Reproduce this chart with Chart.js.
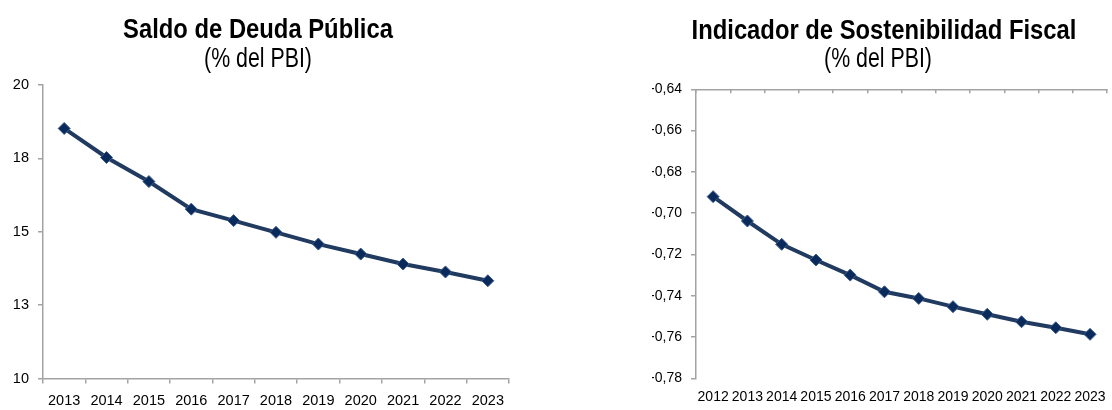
<!DOCTYPE html>
<html>
<head>
<meta charset="utf-8">
<script src="https://cdn.jsdelivr.net/npm/chart.js@4.4.0/dist/chart.umd.min.js"></script>
<style>
    html, body { margin:0; padding:0; background:#fff; overflow:hidden; width:1112px; height:410px; }
    #chart1 { position:absolute; left:0; top:0; }
    #chart2 { position:absolute; left:640px; top:0; }
    .ttl, .sub { position:absolute; white-space:nowrap; color:#000; font-family:'Liberation Sans', Arial, sans-serif; line-height:1; }
    .ttl { font-size:28px; font-weight:bold; transform:translateX(-50%) scaleX(0.85); }
    .sub { font-size:27px; transform:translateX(-50%) scaleX(0.79); }
</style>
</head>
<body>
<canvas id="chart1" width="516" height="410"></canvas>
<canvas id="chart2" width="476" height="410"></canvas>
<div class="ttl" style="left:258px; top:14.6px;">Saldo de Deuda Pública</div>
<div class="sub" style="left:257.5px; top:44.8px;">(% del PBI)</div>
<div class="ttl" style="left:884px; top:16px;">Indicador de Sostenibilidad Fiscal</div>
<div class="sub" style="left:878px; top:45px;">(% del PBI)</div>
<script>
    // Saldo de Deuda Publica (% del PBI)
    let years1 = ['2013', '2014', '2015', '2016', '2017', '2018', '2019', '2020', '2021', '2022', '2023'];
    let deuda = [18.52, 17.53, 16.71, 15.77, 15.38, 14.98, 14.58, 14.24, 13.90, 13.63, 13.33];

    // Indicador de Sostenibilidad Fiscal (% del PBI)
    let years2 = ['2012', '2013', '2014', '2015', '2016', '2017', '2018', '2019', '2020', '2021', '2022', '2023'];
    let indicador = [-0.692, -0.7038, -0.7151, -0.7227, -0.730, -0.7381, -0.7413, -0.7453, -0.749, -0.7526, -0.7555, -0.7587];

    let sans = "'Liberation Sans', Arial, sans-serif";
    let axisGray = '#a3a3a3';
    let lineColor = '#213b60';
    let markColor = '#0a2a5c';

    function lineSet(values) {
        return {
            data: values,
            borderColor: lineColor,
            borderWidth: 4,
            tension: 0,
            pointStyle: 'rectRot',
            pointRadius: 6,
            pointBackgroundColor: markColor,
            pointBorderColor: '#3a5a8c',
            pointBorderWidth: 1
        };
    }

    let noPlugins = { legend: { display: false }, tooltip: { enabled: false } };

    let ctx1 = document.getElementById('chart1').getContext('2d');
    let deudaChart = new Chart(ctx1, {
        type: 'line',
        data: { labels: years1, datasets: [lineSet(deuda)] },
        options: {
            responsive: false,
            animation: false,
            layout: { padding: { left: 4, right: 4, top: 85, bottom: 0 } },
            plugins: noPlugins,
            scales: {
                x: {
                    offset: true,
                    grid: { offset: true, drawOnChartArea: false, color: axisGray, lineWidth: 1.5, tickLength: 5 },
                    border: { color: axisGray, width: 1.5 },
                    ticks: { color: '#000', font: { family: sans, size: 14.5 }, padding: 8.8, maxRotation: 0, autoSkip: false },
                    afterFit: function(s) { s.height = 31.5; }
                },
                y: {
                    min: 10,
                    max: 20,
                    grid: { drawOnChartArea: false, color: axisGray, lineWidth: 1.5, tickLength: 5 },
                    border: { color: axisGray, width: 1.5 },
                    ticks: {
                        stepSize: 2.5,
                        color: '#000',
                        font: { family: sans, size: 14.5 },
                        padding: 9,
                        callback: function(v) { return Math.round(v); }
                    },
                    afterFit: function(s) { s.width = 39; }
                }
            }
        }
    });

    let ctx2 = document.getElementById('chart2').getContext('2d');
    let indicadorChart = new Chart(ctx2, {
        type: 'line',
        data: { labels: years2, datasets: [lineSet(indicador)] },
        options: {
            responsive: false,
            animation: false,
            layout: { padding: { left: 12, right: 4, top: 89.3, bottom: 0 } },
            plugins: noPlugins,
            scales: {
                x: {
                    offset: true,
                    grid: { display: false, drawTicks: false },
                    border: { display: false },
                    ticks: { color: '#000', font: { family: sans, size: 14 }, padding: 10, maxRotation: 0, autoSkip: false },
                    afterFit: function(s) { s.height = 31.7; }
                },
                // axis line across the top, ticks pointing into the plot
                x2: {
                    type: 'category',
                    position: 'top',
                    offset: true,
                    grid: { offset: true, drawOnChartArea: false, color: axisGray, lineWidth: 1.5, tickLength: -4 },
                    border: { color: axisGray, width: 1.5 },
                    ticks: { display: false },
                    afterFit: function(s) { s.height = 0; }
                },
                y: {
                    min: -0.78,
                    max: -0.64,
                    grid: { drawOnChartArea: false, color: axisGray, lineWidth: 1.5, tickLength: 5 },
                    border: { color: axisGray, width: 1.5 },
                    ticks: {
                        stepSize: 0.02,
                        color: '#000',
                        font: { family: sans, size: 14 },
                        padding: 9,
                        callback: function(v) { return v.toFixed(2).replace('.', ','); }
                    },
                    afterFit: function(s) { s.width = 44; }
                }
            }
        }
    });
</script>
</body>
</html>
